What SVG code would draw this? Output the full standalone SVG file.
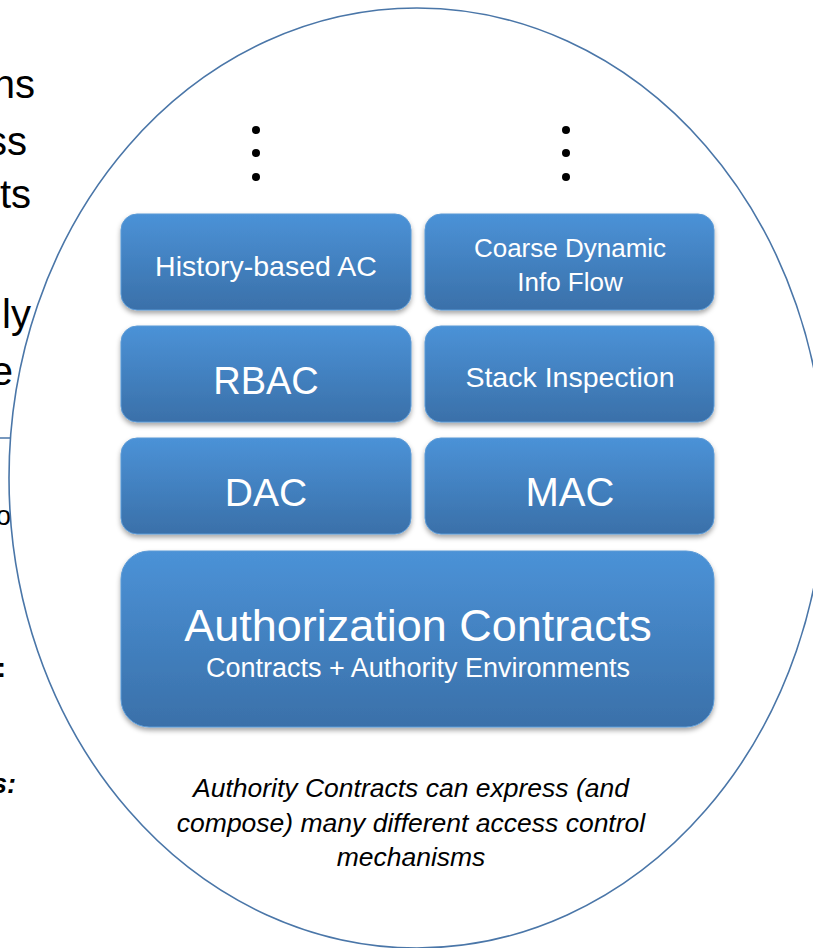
<svg xmlns="http://www.w3.org/2000/svg" width="813" height="948" viewBox="0 0 813 948">
<defs>
<linearGradient id="g" x1="0" y1="0" x2="0" y2="1">
<stop offset="0" stop-color="#4b92d7"/>
<stop offset="1" stop-color="#3a70a9"/>
</linearGradient>
<filter id="sh" x="-10%" y="-10%" width="120%" height="130%">
<feDropShadow dx="0" dy="3" stdDeviation="2.5" flood-color="#000" flood-opacity="0.35"/>
</filter>
</defs>
<style>
.box{fill:url(#g);stroke:#5b9ad6;stroke-width:1;filter:url(#sh)}
.t{font-family:"Liberation Sans",Arial,sans-serif;fill:#fff;text-anchor:middle}
.side{font-family:"Liberation Sans",Arial,sans-serif;fill:#000;text-anchor:end;font-size:40px}
.cap{font-family:"Liberation Sans",Arial,sans-serif;font-style:italic;font-size:26.5px;fill:#000;text-anchor:middle}
.dot{fill:#000}
</style>
<rect width="813" height="948" fill="#fff"/>
<g id="side-text">
<text class="side" x="35" y="98">ns</text>
<text class="side" x="27" y="155">ss</text>
<text class="side" x="31" y="208">ts</text>
<text class="side" x="31" y="328">ly</text>
<text class="side" x="13" y="385">e</text>
<line x1="0" y1="438" x2="11" y2="438" stroke="#4a76a8" stroke-width="1.5"/>
<text class="side" x="11" y="525" style="font-size:27px">o</text>
<text class="side" x="6" y="677" style="font-size:27px;font-weight:bold">:</text>
<text class="side" x="16" y="793" style="font-size:27px;font-weight:bold;font-style:italic">s:</text>
</g>
<g id="ellipse">
<ellipse cx="417" cy="478" rx="408" ry="470" fill="none" stroke="#4a76a8" stroke-width="1.6"/>
</g>
<g id="dots-left">
<circle class="dot" cx="256" cy="130" r="4"/>
<circle class="dot" cx="256" cy="153" r="4"/>
<circle class="dot" cx="256" cy="177" r="4"/>
</g>
<g id="dots-right">
<circle class="dot" cx="566" cy="130" r="4"/>
<circle class="dot" cx="566" cy="153" r="4"/>
<circle class="dot" cx="566" cy="177" r="4"/>
</g>
<g id="history">
<rect class="box" x="121" y="214" width="290" height="96" rx="16"/>
<text class="t" x="266" y="276" style="font-size:28.5px">History-based AC</text>
</g>
<g id="coarse">
<rect class="box" x="425" y="214" width="289" height="96" rx="16"/>
<text class="t" x="570" y="257" style="font-size:26px">Coarse Dynamic</text>
<text class="t" x="570" y="291" style="font-size:26px">Info Flow</text>
</g>
<g id="rbac">
<rect class="box" x="121" y="326" width="290" height="96" rx="16"/>
<text class="t" x="266" y="394" style="font-size:38px">RBAC</text>
</g>
<g id="stack">
<rect class="box" x="425" y="326" width="289" height="96" rx="16"/>
<text class="t" x="570" y="387" style="font-size:28.5px">Stack Inspection</text>
</g>
<g id="dac">
<rect class="box" x="121" y="438" width="290" height="96" rx="16"/>
<text class="t" x="266" y="506" style="font-size:39px">DAC</text>
</g>
<g id="mac">
<rect class="box" x="425" y="438" width="289" height="96" rx="16"/>
<text class="t" x="570" y="506" style="font-size:40px">MAC</text>
</g>
<g id="authz">
<rect class="box" x="121" y="551" width="593" height="176" rx="28"/>
<text class="t" x="418" y="641" style="font-size:45px">Authorization Contracts</text>
<text class="t" x="418" y="677" style="font-size:27px">Contracts + Authority Environments</text>
</g>
<g id="caption">
<text class="cap" x="411" y="797">Authority Contracts can express (and</text>
<text class="cap" x="411" y="832">compose) many different access control</text>
<text class="cap" x="411" y="866">mechanisms</text>
</g>
</svg>
